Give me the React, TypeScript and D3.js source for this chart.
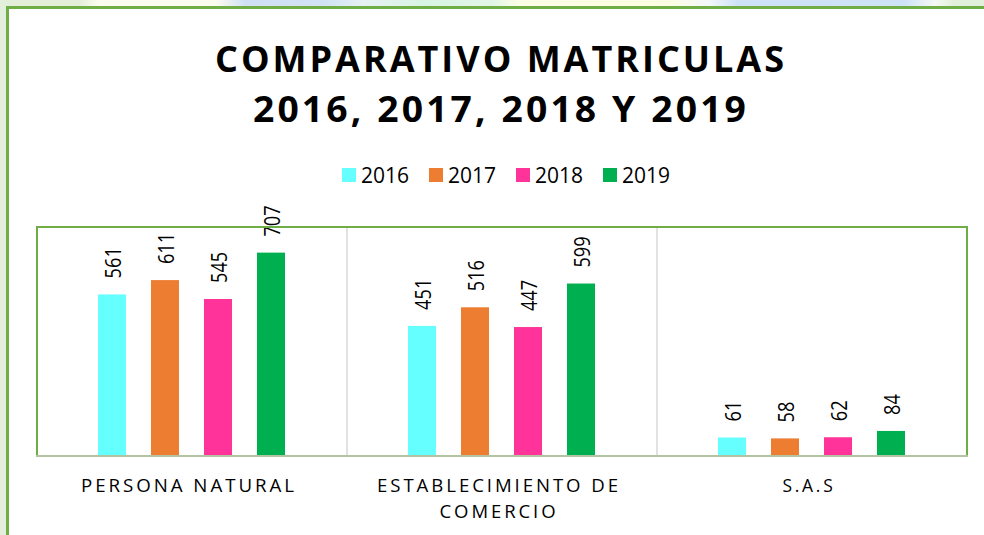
import React from "react";
import * as d3 from "d3";

const categories = ["PERSONA NATURAL", "ESTABLECIMIENTO DE COMERCIO", "S.A.S"];
const categoryLines = [["PERSONA NATURAL"], ["ESTABLECIMIENTO DE", "COMERCIO"], ["S.A.S"]];
const years = ["2016", "2017", "2018", "2019"];
const values2016 = [561, 451, 61];
const values2017 = [611, 516, 58];
const values2018 = [545, 447, 62];
const values2019 = [707, 599, 84];
const seriesValues = [values2016, values2017, values2018, values2019];
const colors = ["#66FFFF", "#ED7D31", "#FF3399", "#00B050"];
const titleLines = ["COMPARATIVO MATRICULAS", "2016, 2017, 2018 Y 2019"];
const yMax = 800;

const W = 984;
const H = 535;
const plot = { left: 37, right: 967, top: 226, bottom: 455 };
const FONT = "'Open Sans', 'Liberation Sans', sans-serif";
// measured widths of text lines in the reference (styling)
const titleWidths = [572, 496];
const catLineWidths = [[216], [244, 119], [53]];

export default function App() {
  const x0 = d3.scaleBand<string>().domain(categories).range([plot.left, plot.right]).padding(0);
  const x1 = d3
    .scaleBand<string>()
    .domain(years)
    .range([61, 248])
    .paddingInner(25 / 53)
    .paddingOuter(0);
  const y = d3.scaleLinear().domain([0, yMax]).range([plot.bottom, plot.top]);

  const gradStops: [number, string][] = [
    [0, "#e3eed9"], [0.08, "#e3eed9"], [0.1, "#fcfcef"], [0.22, "#fbfbee"],
    [0.25, "#cfe0f5"], [0.33, "#d2e3f5"], [0.37, "#e8f1f4"], [0.43, "#d8f4e2"],
    [0.5, "#e2f6e6"], [0.53, "#fefee6"], [0.68, "#fdfde3"], [0.72, "#f3f8f8"],
    [0.75, "#cde2f7"], [0.92, "#cfe3f6"], [0.95, "#f6f9f4"], [0.97, "#e2efda"], [1, "#e2efda"],
  ];

  return (
    <svg
      width={W}
      height={H}
      style={{ position: "fixed", left: 0, top: 0, background: "#ffffff" }}
      fontFamily={FONT}
    >
      <defs>
        <linearGradient id="topStrip" x1="0" x2="1" y1="0" y2="0">
          {gradStops.map(([o, c], i) => (
            <stop key={i} offset={o} stopColor={c} />
          ))}
        </linearGradient>
      </defs>
      <rect x={0} y={0} width={W} height={H} fill="#ffffff" />
      <rect x={0} y={0} width={W} height={6} fill="url(#topStrip)" />
      <rect x={0} y={0} width={6} height={H} fill="#e2efda" />
      {/* outer frame */}
      <line x1={7.5} x2={7.5} y1={6} y2={H} stroke="#70ad47" strokeWidth={3} />
      <line x1={6} x2={W} y1={7.5} y2={7.5} stroke="#70ad47" strokeWidth={3} />

      {/* title */}
      {titleLines.map((t, i) => (
        <text
          key={i}
          x={501}
          y={72 + i * 50}
          textAnchor="middle"
          fontSize={36}
          fontWeight={700}
          letterSpacing={3}
          textLength={titleWidths[i]}
          lengthAdjust="spacingAndGlyphs"
          fill="#000"
        >
          {t}
        </text>
      ))}

      {/* legend */}
      {years.map((yr, i) => (
        <g key={yr} transform={`translate(${342 + i * 87},168)`}>
          <rect x={0} y={0} width={14} height={14} fill={colors[i]} />
          <text x={19} y={14.5} fontSize={21} fill="#000">
            {yr}
          </text>
        </g>
      ))}

      {/* separators */}
      {categories.slice(1).map((c) => (
        <line
          key={c}
          x1={x0(c)!}
          x2={x0(c)!}
          y1={plot.top}
          y2={plot.bottom}
          stroke="#d9d9d9"
          strokeWidth={1.5}
        />
      ))}

      {/* bars */}
      {categories.map((c, ci) => (
        <g key={c} transform={`translate(${x0(c)},0)`}>
          {years.map((yr, si) => {
            const v = seriesValues[si][ci];
            const bx = x1(yr)!;
            const bw = x1.bandwidth();
            const label = String(v);
            return (
              <g key={yr}>
                <rect x={bx} y={y(v)} width={bw} height={y(0) - y(v)} fill={colors[si]} />
                <text
                  transform={`translate(${bx + bw / 2 + 8.5},${y(v) - 16}) rotate(-90)`}
                  fontSize={21}
                  textLength={label.length * 10.4}
                  lengthAdjust="spacingAndGlyphs"
                  fill="#000"
                >
                  {label}
                </text>
              </g>
            );
          })}
        </g>
      ))}

      {/* plot border */}
      <path
        d={`M${plot.left},${plot.bottom}V${plot.top + 1}H${plot.right}V${plot.bottom}`}
        fill="none"
        stroke="#70ad47"
        strokeWidth={2}
      />
      <line
        x1={plot.left - 1}
        x2={plot.right + 1}
        y1={plot.bottom + 1}
        y2={plot.bottom + 1}
        stroke="#b3c4a3"
        strokeWidth={2}
      />

      {/* category labels */}
      {categories.map((c, ci) => {
        const cx = x0(c)! + x0.bandwidth() / 2 - 3;
        return (
          <g key={c}>
            {categoryLines[ci].map((line, li) => (
              <text
                key={li}
                x={cx}
                y={492 + li * 26}
                textAnchor="middle"
                fontSize={19}
                letterSpacing={3}
                textLength={catLineWidths[ci][li]}
                lengthAdjust="spacingAndGlyphs"
                fill="#000"
              >
                {line}
              </text>
            ))}
          </g>
        );
      })}
    </svg>
  );
}
